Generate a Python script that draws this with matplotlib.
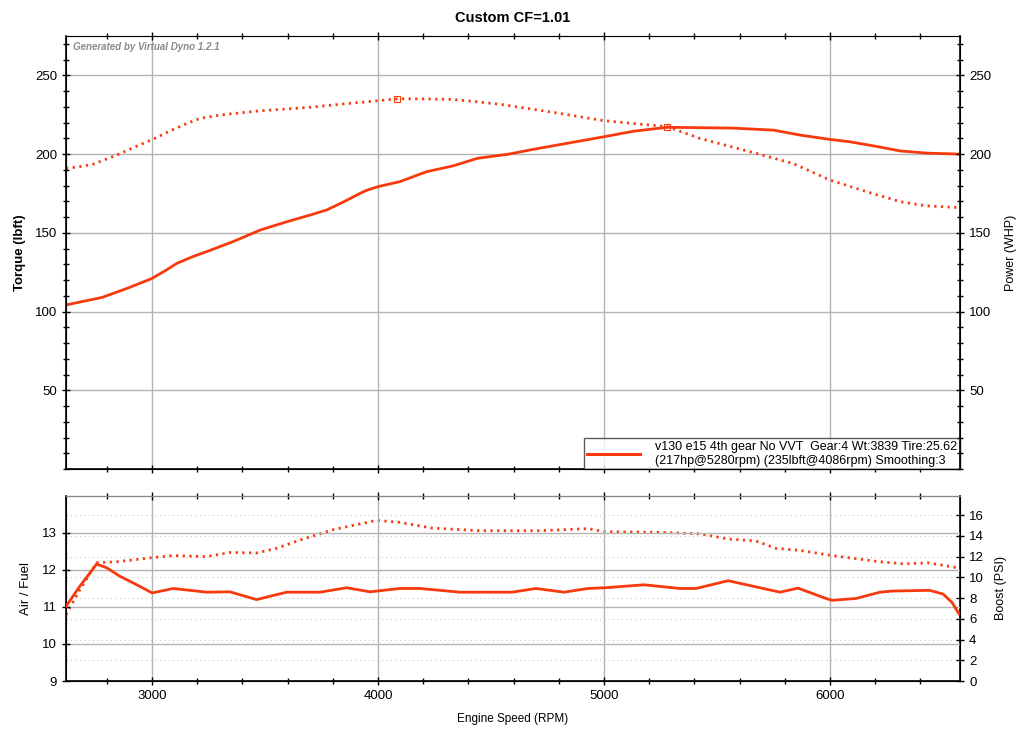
import matplotlib.pyplot as plt
from matplotlib.ticker import MultipleLocator
from matplotlib.lines import Line2D

plt.rcParams['font.family'] = ['Liberation Sans', 'DejaVu Sans']

# Power (WHP) - solid
pwr_rpm = [2620, 2780, 2888, 3000, 3065, 3110, 3183, 3260, 3360, 3480, 3596, 3700,
           3773, 3850, 3920, 3950, 4000, 4097, 4215, 4332, 4440, 4580, 4687, 4835,
           5000, 5130, 5280, 5570, 5750, 5870, 6000, 6088, 6200, 6310, 6428, 6570]
pwr = [104.2, 109, 114.6, 121, 126.5, 130.6, 135, 139, 144.5, 151.8, 157, 161.3,
       164.5, 169.8, 175, 177, 179.3, 182.5, 188.8, 192.5, 197.3, 200, 203, 206.8,
       211, 214.5, 217, 216.5, 215.2, 212, 209.3, 207.8, 205, 202, 200.6, 200]

# Torque (lbft) - dotted
tq_rpm = [2620, 2681, 2740, 2845, 2932, 3005, 3080, 3155, 3212, 3300, 3480, 3700,
          3845, 4000, 4086, 4215, 4330, 4437, 4540, 4761, 5000, 5280, 5425, 5675,
          5837, 6000, 6164, 6310, 6420, 6570]
tq = [190.9, 192, 193.6, 199.4, 205, 209.5, 214.7, 219.5, 222.6, 224.8, 227.5, 229.7,
      231.8, 233.9, 235.1, 235, 234.7, 233.2, 231.6, 226.8, 221.2, 217.4, 209.9, 200.4,
      194, 183.5, 176, 169.8, 167.2, 166]

# peaks
peak_tq = (4086, 235)
peak_hp = (5280, 217)

# Air / Fuel - solid
afr_rpm = [2620, 2681, 2755, 2800, 2858, 2917, 3001, 3094, 3242, 3345, 3463, 3596,
           3743, 3861, 3965, 4097, 4186, 4363, 4593, 4699, 4823, 4929, 5004, 5177,
           5336, 5407, 5549, 5690, 5779, 5858, 5973, 6009, 6115, 6221, 6274, 6440,
           6500, 6540, 6570]
afr = [11.02, 11.56, 12.16, 12.06, 11.83, 11.65, 11.38, 11.5, 11.4, 11.41, 11.2, 11.4,
       11.4, 11.52, 11.41, 11.5, 11.5, 11.4, 11.4, 11.5, 11.4, 11.5, 11.52, 11.6,
       11.5, 11.5, 11.71, 11.52, 11.4, 11.51, 11.25, 11.18, 11.23, 11.4, 11.43, 11.45,
       11.35, 11.12, 10.82]

# Boost (PSI) - dotted
bst_rpm = [2620, 2681, 2755, 2844, 3001, 3094, 3242, 3345, 3463, 3551, 3655, 3802,
           3994, 4097, 4239, 4451, 4717, 4929, 5004, 5230, 5425, 5549, 5673, 5761,
           5867, 6009, 6221, 6327, 6434, 6570]
bst = [6.4, 8.8, 11.4, 11.5, 11.9, 12.1, 12.0, 12.4, 12.35, 12.8, 13.6, 14.6,
       15.5, 15.3, 14.75, 14.5, 14.5, 14.7, 14.4, 14.35, 14.2, 13.7, 13.5, 12.8,
       12.6, 12.1, 11.5, 11.3, 11.4, 10.9]

red = '#f63a0e'
grid_c = '#b4b4b4'
dots = (0, (0.8, 1.6))
xlim = (2620, 6575)

fig = plt.figure(figsize=(10.24, 7.34), dpi=100)
ax = fig.add_axes([0.0645, 0.361, 0.873, 0.590])
ax2 = ax.twinx()
bx = fig.add_axes([0.0645, 0.0722, 0.873, 0.2521])
bx2 = bx.twinx()


def style(a, right_ax):
    a.tick_params(axis='both', which='major', direction='inout', length=6, width=1,
                  labelsize=9.5, colors='black')
    a.tick_params(axis='both', which='minor', direction='inout', length=4, width=1)
    a.tick_params(axis='x', top=True, which='both')
    for s in ['left', 'bottom']:
        a.spines[s].set_linewidth(1.2)
    a.spines['top'].set_color('#888888')
    a.spines['top'].set_linewidth(0.8)
    right_ax.spines['right'].set_linewidth(1.2)
    right_ax.tick_params(axis='y', which='major', direction='inout', length=6, width=1,
                         labelsize=9.5)
    right_ax.tick_params(axis='y', which='minor', direction='inout', length=4, width=1)


# top panel
ax.plot(pwr_rpm, pwr, color=red, lw=2.0, solid_joinstyle='round', zorder=3)
ax.plot(tq_rpm, tq, color=red, lw=2.0, linestyle=dots, zorder=3)
ax.plot(*peak_tq, marker='s', ms=5, mfc='none', mec=red, mew=0.8, zorder=4)
ax.plot(*peak_hp, marker='s', ms=5, mfc='none', mec=red, mew=0.8, zorder=4)
ax.set_xlim(*xlim)
ax.set_ylim(0, 275)
ax2.set_ylim(0, 275)
ax.set_xticks([3000, 4000, 5000, 6000])
ax.xaxis.set_minor_locator(MultipleLocator(200))
ax.set_xticklabels([])
ax.set_yticks([50, 100, 150, 200, 250])
ax2.set_yticks([50, 100, 150, 200, 250])
ax.yaxis.set_minor_locator(MultipleLocator(10))
ax2.yaxis.set_minor_locator(MultipleLocator(10))
ax.grid(True, which='major', color=grid_c, lw=1)
style(ax, ax2)
ax.set_ylabel('Torque (lbft)', fontsize=9.5, fontweight='bold', labelpad=6)
ax2.set_ylabel('Power (WHP)', fontsize=9, labelpad=10)
ax.text(0.008, 0.985, 'Generated by Virtual Dyno 1.2.1', transform=ax.transAxes,
        ha='left', va='top', fontsize=7, style='italic', fontweight='bold', color='#8a8a8a')
ax.set_title('Custom CF=1.01', fontsize=10.5, fontweight='bold', pad=10)

handle = Line2D([], [], color=red, lw=2.2)
leg = ax.legend([handle],
                ['v130 e15 4th gear No VVT  Gear:4 Wt:3839 Tire:25.62\n'
                 '(217hp@5280rpm) (235lbft@4086rpm) Smoothing:3'],
                loc='lower right', borderaxespad=0, fontsize=9, frameon=True,
                fancybox=False, handlelength=4.3, handletextpad=1.2,
                borderpad=0.2)
leg.get_frame().set_edgecolor('#333333')
leg.get_frame().set_linewidth(1)

# bottom panel
bx.plot(afr_rpm, afr, color=red, lw=2.0, solid_joinstyle='round', zorder=3)
bx2.plot(bst_rpm, bst, color=red, lw=2.0, linestyle=dots, zorder=3)
bx.set_xlim(*xlim)
bx.set_ylim(9, 14)
bx2.set_ylim(0, 17.85)
bx.set_xticks([3000, 4000, 5000, 6000])
bx.xaxis.set_minor_locator(MultipleLocator(200))
bx.set_yticks([9, 10, 11, 12, 13])
bx2.set_yticks(list(range(0, 17, 2)))
bx.grid(True, which='major', color=grid_c, lw=1)
bx2.grid(True, axis='y', color='#c8c8c8', lw=0.8, linestyle=(0, (1, 3)))
bx.set_zorder(bx2.get_zorder() + 1)
bx.patch.set_visible(False)
style(bx, bx2)
bx.set_ylabel('Air / Fuel', fontsize=9.5, labelpad=7)
bx2.set_ylabel('Boost (PSI)', fontsize=9, labelpad=8)
bx.set_xlabel('Engine Speed (RPM)', fontsize=8.5, labelpad=8)

fig.savefig('out.png', dpi=100)
